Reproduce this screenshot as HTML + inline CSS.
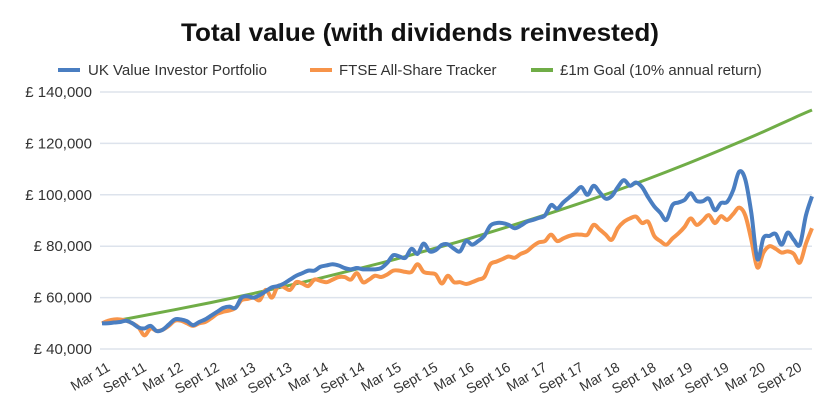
<!DOCTYPE html>
<html><head><meta charset="utf-8"><style>
body{margin:0;background:#fff;}
svg{display:block;font-family:"Liberation Sans",Arial,sans-serif;}
</style></head><body>
<svg id="chart" width="840" height="419" viewBox="0 0 840 419" xmlns="http://www.w3.org/2000/svg">
<text x="420" y="41" text-anchor="middle" font-size="25" font-weight="bold" fill="#111" textLength="478" lengthAdjust="spacingAndGlyphs">Total value (with dividends reinvested)</text>
<g font-size="15" fill="#333">
 <g><line x1="58" y1="70" x2="80" y2="70" stroke="#4a7ec1" stroke-width="4"/><text x="88" y="75">UK Value Investor Portfolio</text></g>
 <g><line x1="310" y1="70" x2="332" y2="70" stroke="#f7944a" stroke-width="4"/><text x="339" y="75">FTSE All-Share Tracker</text></g>
 <g><line x1="531" y1="70" x2="553" y2="70" stroke="#70ad47" stroke-width="4"/><text x="560" y="75">£1m Goal (10% annual return)</text></g>
</g>
<g id="grid"></g>
<g id="yax"></g>
<g id="xax"></g>
<g id="series"></g>
</svg>
<script>
const yTicks=[40,60,80,100,120,140];
const yTickLabels=["£ 40,000","£ 60,000","£ 80,000","£ 100,000","£ 120,000","£ 140,000"];
const xLabels=["Mar 11","Sept 11","Mar 12","Sept 12","Mar 13","Sept 13","Mar 14","Sept 14","Mar 15","Sept 15","Mar 16","Sept 16","Mar 17","Sept 17","Mar 18","Sept 18","Mar 19","Sept 19","Mar 20","Sept 20"];
const portfolio=[50,50,50.3,50.5,51,50,48.4,48,49,47,47.5,49.5,51.5,51.5,50.8,49.3,50.5,51.5,53,54.5,56,56.5,56,60,60.5,60,61,62.5,64,64.5,65.5,67,68.5,69.5,70.5,70.5,72,72.5,73,72.5,71.5,71,71.5,71,71,71,71.5,73.5,76.5,76,75.5,79,77,81,78,78.5,80.5,80.7,79,78,82,80.6,82,84,88,89,89,88.3,87,88,89.5,90.2,91,92,96,94.6,97,99,101,103,100,103.5,101,98.5,99.5,103,105.7,103.5,104.8,103,99,95.5,93,90.2,96,97,98,100.6,97.6,97.5,98.5,94,96.8,97.2,101.7,109,106,93,75,83.2,84,84.8,80.6,85.3,82.5,80.6,92,99.4];
const ftse=[50,51,51.5,51.5,51,50,48.5,45.3,48,47,47.5,49,51,51,50,49,50,50.5,52,53.7,54.5,55,56,59,59.5,60,59,63,60,64.5,64,63,66,65.5,64.5,67,66.5,66,67,68,68,67,69.5,66,67,68.5,68,69,70.5,70.5,70,70,73,70,69.5,69,65.5,68.5,66,66,65.3,66,67,68,73,74,75,76,75.5,77,78,80,81.5,82,84.5,82,83,84,84.5,84.5,84.5,88.3,86.5,84.5,82.5,87,89.5,90.8,91.5,89,89.5,84,82,80.6,83,85,87.5,90.8,88.3,90,92.1,89,91.7,90.2,92.5,95,92,82.5,71.7,77.5,80,79,77.5,78,77,73.6,81,87];
const goalMonths=[0,6,12,18,24,30,36,42,48,54,60,66,72,78,84,90,96,102,108,114,117];
const goal=[50.0,52.6,55.3,58.1,61.1,64.3,67.6,71.1,74.7,78.6,82.6,86.9,91.4,96.1,101.0,106.2,111.7,117.5,123.5,129.9,133.0];
const NS="http://www.w3.org/2000/svg";
const X0=102,X1=812,NM=117;
const xs=i=>X0+(X1-X0)*i/NM;
const ys=v=>349-(v-40)*(257/100);
function mk(t,a,p){const e=document.createElementNS(NS,t);for(const k in a)e.setAttribute(k,a[k]);p.appendChild(e);return e;}
const grid=document.getElementById('grid'),yax=document.getElementById('yax'),xax=document.getElementById('xax'),ser=document.getElementById('series');
yTicks.forEach((v,k)=>{
 const l=mk('line',{x1:100,x2:812,y1:ys(v),y2:ys(v),stroke:'#dde3ec','stroke-width':1.5},grid);
 
 
 const t=mk('text',{x:92,y:ys(v)+5,'text-anchor':'end','font-size':15,fill:'#333'},yax);
 t.textContent=yTickLabels[k];
 
 
});
xLabels.forEach((s,k)=>{
 const x=xs(k*6)+9,y=370;
 const t=mk('text',{x:x,y:y,'text-anchor':'end','font-size':14,fill:'#333',transform:`rotate(-30 ${x} ${y})`},xax);
 t.textContent=s;
 
 
});
function smooth(pts){let d=`M${pts[0][0]},${pts[0][1]}`;for(let i=0;i<pts.length-1;i++){const p0=pts[i-1]||pts[i],p1=pts[i],p2=pts[i+1],p3=pts[i+2]||p2;const c1=[p1[0]+(p2[0]-p0[0])/6,p1[1]+(p2[1]-p0[1])/6],c2=[p2[0]-(p3[0]-p1[0])/6,p2[1]-(p3[1]-p1[1])/6];d+=` C${c1[0]},${c1[1]} ${c2[0]},${c2[1]} ${p2[0]},${p2[1]}`;}return d;}
const gp=mk('path',{d:smooth(goal.map((v,i)=>[xs(goalMonths[i]),ys(v)])),fill:'none',stroke:'#70ad47','stroke-width':3},ser);


const fp=mk('path',{d:smooth(ftse.map((v,i)=>[xs(i),ys(v)])),fill:'none',stroke:'#f7944a','stroke-width':4,'stroke-linejoin':'round'},ser);


const pp=mk('path',{d:smooth(portfolio.map((v,i)=>[xs(i),ys(v)])),fill:'none',stroke:'#4a7ec1','stroke-width':4,'stroke-linejoin':'round'},ser);


</script>
</body></html>
